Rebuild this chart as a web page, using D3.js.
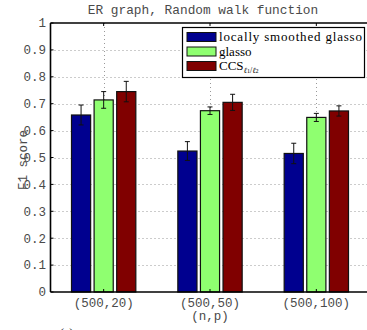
<!DOCTYPE html>
<html><head><meta charset="utf-8">
<script src="https://cdn.jsdelivr.net/npm/d3@7"></script>
<style>body{margin:0;background:#fff;}svg{display:block;}</style>
</head><body>
<script>
const categories = ["(500,20)", "(500,50)", "(500,100)"];
const seriesNames = ["locally smoothed glasso", "glasso", "CCS"];
const smoothed = [0.658, 0.524, 0.515];
const smoothedErr = [0.037, 0.035, 0.038];
const glasso = [0.714, 0.674, 0.649];
const glassoErr = [0.031, 0.014, 0.015];
const ccs = [0.745, 0.705, 0.673];
const ccsErr = [0.038, 0.030, 0.019];
const yTicks = [0, 0.1, 0.2, 0.3, 0.4, 0.5, 0.6, 0.7, 0.8, 0.9, 1];
const colors = ["#00008f", "#8fff70", "#800000"];

(function () {
const W = 367, H = 330;
const svg = d3.select("body").append("svg").attr("width", W).attr("height", H);
const pL = 50.5, pR = 369.5, pT = 23, pB = 292;
const mono = "Liberation Mono, monospace";
const txtCol = "#4a4a4a";

const x = d3.scaleLinear().domain([0.5, 3.5]).range([pL, pR]);
const y = d3.scaleLinear().domain([0, 1]).range([pB, pT]);
const series = [
  {vals: smoothed, err: smoothedErr},
  {vals: glasso, err: glassoErr},
  {vals: ccs, err: ccsErr}
];
const offsets = [-0.2125, 0, 0.2125];
const bw = 0.18;

// grid
const g = svg.append("g");
yTicks.forEach(t => {
  if (t === 0 || t === 1) return;
  g.append("line").attr("x1", pL).attr("x2", pR).attr("y1", Math.round(y(t)) + 0.5).attr("y2", Math.round(y(t)) + 0.5)
    .attr("stroke", "#999").attr("stroke-width", 1).attr("stroke-dasharray", "1,3");
});
categories.forEach((c, i) => {
  g.append("line").attr("x1", Math.round(x(i + 1)) + 0.5).attr("x2", Math.round(x(i + 1)) + 0.5).attr("y1", pT).attr("y2", pB)
    .attr("stroke", "#999").attr("stroke-width", 1).attr("stroke-dasharray", "1,3");
});

// bars
series.forEach((s, si) => {
  s.vals.forEach((v, i) => {
    const cx = i + 1 + offsets[si];
    svg.append("rect")
      .attr("x", x(cx - bw / 2)).attr("y", y(v))
      .attr("width", x(cx + bw / 2) - x(cx - bw / 2)).attr("height", y(0) - y(v))
      .attr("fill", colors[si]).attr("stroke", "#111").attr("stroke-width", 1.2);
  });
});
// error bars
series.forEach((s, si) => {
  s.vals.forEach((v, i) => {
    const cx = x(i + 1 + offsets[si]);
    const y1 = y(v + s.err[i]), y2 = y(v - s.err[i]);
    svg.append("line").attr("x1", cx).attr("x2", cx).attr("y1", y1).attr("y2", y2).attr("stroke", "#111").attr("stroke-width", 1);
    [y1, y2].forEach(yy => svg.append("line").attr("x1", cx - 2.5).attr("x2", cx + 2.5).attr("y1", yy).attr("y2", yy).attr("stroke", "#111").attr("stroke-width", 1));
  });
});

// axes frame
svg.append("line").attr("x1", pL).attr("x2", pR).attr("y1", pB).attr("y2", pB).attr("stroke", "#000").attr("stroke-width", 1.6);
svg.append("line").attr("x1", pL).attr("x2", pR).attr("y1", pT).attr("y2", pT).attr("stroke", "#000").attr("stroke-width", 1.6);
svg.append("line").attr("x1", pL).attr("x2", pL).attr("y1", pT).attr("y2", pB).attr("stroke", "#000").attr("stroke-width", 1.6);

// ticks (inward)
yTicks.forEach(t => {
  svg.append("line").attr("x1", pL).attr("x2", pL + 3).attr("y1", y(t)).attr("y2", y(t)).attr("stroke", "#000");
  svg.append("text").attr("x", 46).attr("y", y(t)).attr("dy", "0.35em").attr("text-anchor", "end")
    .attr("font-family", mono).attr("font-size", 12.5).attr("fill", txtCol).text(String(t));
});
categories.forEach((c, i) => {
  svg.append("line").attr("x1", x(i + 1)).attr("x2", x(i + 1)).attr("y1", pB).attr("y2", pB - 3).attr("stroke", "#000");
  svg.append("line").attr("x1", x(i + 1)).attr("x2", x(i + 1)).attr("y1", pT).attr("y2", pT + 3).attr("stroke", "#000");
  svg.append("text").attr("x", x(i + 1)).attr("y", 303).attr("dy", "0.35em").attr("text-anchor", "middle")
    .attr("font-family", mono).attr("font-size", 12.5).attr("fill", txtCol).text(c);
});

// labels
svg.append("text").attr("x", 203).attr("y", 14).attr("text-anchor", "middle")
  .attr("font-family", mono).attr("font-size", 12.8).attr("fill", txtCol).text("ER graph, Random walk function");
svg.append("text").attr("x", 210).attr("y", 316).attr("dy", "0.35em").attr("text-anchor", "middle")
  .attr("font-family", mono).attr("font-size", 12.5).attr("fill", txtCol).text("(n,p)");
svg.append("text").attr("transform", "translate(23,160) rotate(-90)").attr("dy", "0.35em").attr("text-anchor", "middle")
  .attr("font-family", mono).attr("font-size", 12.5).attr("fill", txtCol).text("F1 score");
svg.append("text").attr("x", 60).attr("y", 337).attr("font-family", "Liberation Serif, serif").attr("font-size", 12).attr("fill", "#000").text("(a)");

// legend
const lg = svg.append("g");
lg.append("rect").attr("x", 182.5).attr("y", 27.5).attr("width", 182).attr("height", 50)
  .attr("fill", "#fff").attr("stroke", "#000").attr("stroke-width", 1.2);
const rowsY = [37, 51.5, 66];
seriesNames.forEach((n, i) => {
  lg.append("rect").attr("x", 187).attr("y", rowsY[i] - 4.5).attr("width", 29).attr("height", 9)
    .attr("fill", colors[i]).attr("stroke", "#111").attr("stroke-width", 1);
  const t = lg.append("text").attr("x", 219).attr("y", rowsY[i]).attr("dy", "0.33em")
    .attr("font-family", "Liberation Serif, serif").attr("font-size", 13).attr("fill", "#000").text(n);
  if (i === 0) t.attr("textLength", 143).attr("lengthAdjust", "spacing");
  if (i === 2) {
    t.append("tspan").attr("baseline-shift", "-35%").attr("font-size", 8).attr("font-style", "italic").text("ℓ");
    t.append("tspan").attr("baseline-shift", "-55%").attr("font-size", 6).text("1");
    t.append("tspan").attr("baseline-shift", "-35%").attr("font-size", 8).text("/");
    t.append("tspan").attr("baseline-shift", "-35%").attr("font-size", 8).attr("font-style", "italic").text("ℓ");
    t.append("tspan").attr("baseline-shift", "-55%").attr("font-size", 6).text("2");
  }
});
})();
</script>
</body></html>
